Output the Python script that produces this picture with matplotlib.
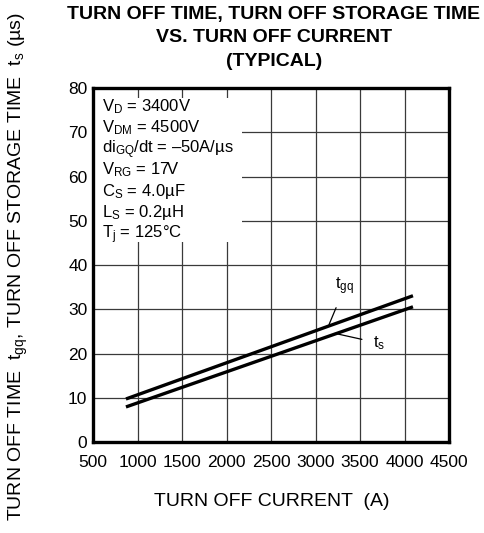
import numpy as np
import matplotlib
matplotlib.use("Agg")
import matplotlib.pyplot as plt
from matplotlib.patches import Rectangle

plt.rcParams['font.family'] = ['Liberation Sans', 'DejaVu Sans']
plt.rcParams['mathtext.fontset'] = 'custom'
plt.rcParams['mathtext.rm'] = 'Liberation Sans'
plt.rcParams['mathtext.it'] = 'Liberation Sans:italic'
plt.rcParams['mathtext.bf'] = 'Liberation Sans:bold'

# data
current = [870, 4095]
t_gq = [9.8, 33.1]
t_s = [8.0, 30.6]

x_ticks = [500, 1000, 1500, 2000, 2500, 3000, 3500, 4000, 4500]
y_ticks = [0, 10, 20, 30, 40, 50, 60, 70, 80]

conditions = [
    r"V$_\mathrm{D}$ = 3400V",
    r"V$_\mathrm{DM}$ = 4500V",
    r"di$_\mathrm{GQ}$/dt = –50A/µs",
    r"V$_\mathrm{RG}$ = 17V",
    r"C$_\mathrm{S}$ = 4.0µF",
    r"L$_\mathrm{S}$ = 0.2µH",
    r"T$_\mathrm{j}$ = 125°C",
]

fig = plt.figure(figsize=(4.85, 5.33), dpi=100)
ax = fig.add_axes([0.1918, 0.170, 0.7340, 0.665])

ax.set_xlim(500, 4500)
ax.set_ylim(0, 80)
ax.set_xticks(x_ticks)
ax.set_yticks(y_ticks)
ax.tick_params(length=0, labelsize=12.5)
ax.tick_params(axis='x', pad=9)
ax.tick_params(axis='y', pad=4)
ax.grid(True, color='#3a3a3a', lw=0.9)
ax.set_axisbelow(True)
for sp in ax.spines.values():
    sp.set_linewidth(2.4)

# white box behind the test conditions
ax.add_patch(Rectangle((500, 45.2), 1670, 32.5, facecolor='white',
                       edgecolor='none', zorder=1.5))
y0 = 74.8
for i, s in enumerate(conditions):
    ax.text(601, y0 - i * 4.79, s, fontsize=12, va='baseline', ha='left', zorder=3)

ax.plot(current, t_gq, color='black', lw=2.4, solid_capstyle='butt', zorder=3)
ax.plot(current, t_s, color='black', lw=2.4, solid_capstyle='butt', zorder=3)

ax.annotate(r"t$_\mathrm{gq}$", xy=(3152, 26.6), xytext=(3331, 35.2), fontsize=12,
            ha='center', va='center',
            arrowprops=dict(arrowstyle='-', lw=0.9, color='black', shrinkA=6, shrinkB=0))
ax.annotate(r"t$_\mathrm{s}$", xy=(3219, 24.6), xytext=(3713, 22.4), fontsize=12,
            ha='center', va='center',
            arrowprops=dict(arrowstyle='-', lw=0.9, color='black', shrinkA=6, shrinkB=0))

fig.text(274 / 485, 1 - 15 / 533, "TURN OFF TIME, TURN OFF STORAGE TIME",
         ha='center', va='center', fontsize=14, fontweight='bold')
fig.text(274 / 485, 1 - 38 / 533, "VS. TURN OFF CURRENT",
         ha='center', va='center', fontsize=14, fontweight='bold')
fig.text(274 / 485, 1 - 62 / 533, "(TYPICAL)",
         ha='center', va='center', fontsize=14, fontweight='bold')

fig.text(272 / 485, 1 - 502 / 533, "TURN OFF CURRENT  (A)",
         ha='center', va='center', fontsize=14)
fig.text(18 / 485, 0.5,
         r"TURN OFF TIME  t$_\mathrm{gq}$, TURN OFF STORAGE TIME  t$_\mathrm{s}$ (µs)",
         ha='center', va='center', rotation=90, fontsize=14)

fig.savefig("out.png", dpi=100)
